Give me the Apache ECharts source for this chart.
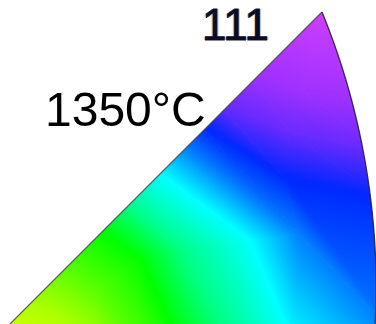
<!DOCTYPE html>
<html>
<head>
<meta charset="utf-8">
<script src="https://cdn.jsdelivr.net/npm/echarts@6/dist/echarts.min.js"></script>
<style>
  html, body { margin: 0; padding: 0; background: #fff; }
  #chart { width: 376px; height: 324px; }
</style>
</head>
<body>
<div id="chart"></div>
<script>
// Colour isolines of the orientation key: the colour is constant along each
// three-point polyline (start just outside the 45° edge, middle, end past the rim).
const isoColors = ['#d2ff00', '#aaff00', '#55ff00', '#00ff00', '#00ff80', '#00ffff',
                   '#0080ff', '#0028ff', '#6a2aff', '#a030ff', '#d040ff'];
const isoStartX = [-5, 22, 60, 95, 118, 150, 175, 195, 215, 248, 300];
const isoStartY = [305, 300, 262, 226, 200, 166, 140, 120, 100, 72, -5];
const isoMidX   = [12, 58, 100, 140, 180, 250, 300, 283, 290, 305, 322];
const isoMidY   = [332, 314, 290, 258, 250, 240, 235, 176, 132, 92, 6];
const isoEndX   = [40, 90, 135, 178, 228, 292, 395, 385, 380, 370, 350];
const isoEndY   = [350, 340, 340, 340, 340, 340, 335, 200, 150, 100, 0];

// Key outline: apex, lower end of the straight edge, and the circular rim
const apex = [322, 12];
const edgeFoot = [10, 324];
const rimCenter = [-352.8, 287.6];
const rimRadius = 728.9;

const pole = '111';
const tempLabel = '1350°C';

const chart = echarts.init(document.getElementById('chart'), null, { renderer: 'canvas' });

function foot(p, a, b) {
  const dx = b[0] - a[0], dy = b[1] - a[1];
  const t = ((p[0] - a[0]) * dx + (p[1] - a[1]) * dy) / (dx * dx + dy * dy);
  return [a[0] + t * dx, a[1] + t * dy];
}

function shadedTri(p0, p1, p2, from, to, c0, c1) {
  const g = new echarts.graphic.LinearGradient(from[0], from[1], to[0], to[1],
    [{ offset: 0, color: c0 }, { offset: 1, color: c1 }], true);
  return { type: 'polygon', shape: { points: [p0, p1, p2] },
           style: { fill: g, stroke: g, lineWidth: 1 }, silent: true };
}

function isoLine(api, i) {
  return [[isoStartX[i], isoStartY[i]], [isoMidX[i], isoMidY[i]], [isoEndX[i], isoEndY[i]]]
    .map(p => api.coord(p));
}

// Each strip between two isolines is split into triangles whose gradients
// run from one isoline's colour to the next, so shading is continuous.
function renderStrip(params, api) {
  const i = api.value(0);
  const A = isoLine(api, i), B = isoLine(api, i + 1);
  const cA = isoColors[i], cB = isoColors[i + 1];
  const children = [];
  for (let k = 0; k < 2; k++) {
    const a0 = A[k], a1 = A[k + 1], b0 = B[k], b1 = B[k + 1];
    children.push(shadedTri(a0, a1, b0, foot(b0, a0, a1), b0, cA, cB));
    children.push(shadedTri(a1, b1, b0, a1, foot(a1, b0, b1), cA, cB));
  }
  return { type: 'group', children };
}

function rimX(y) {
  return rimCenter[0] + Math.sqrt(rimRadius * rimRadius - (y - rimCenter[1]) * (y - rimCenter[1]));
}

// White surround outside the key, then its dark outline
function renderFrame(params, api) {
  const c = p => api.coord(p);
  const rim = [];
  for (let y = apex[1]; y <= 334; y += 2) rim.push([rimX(y), y]);
  const leftMask = [[-10, -10], [apex[0], -10], apex, edgeFoot, [-10, 334], [-10, 324]].map(c);
  const rightMask = [[apex[0], -10], [400, -10], [400, 334]]
    .concat(rim.slice().reverse()).map(c);
  return {
    type: 'group',
    children: [
      { type: 'polygon', shape: { points: leftMask }, style: { fill: '#fff' }, silent: true },
      { type: 'polygon', shape: { points: rightMask }, style: { fill: '#fff' }, silent: true },
      { type: 'polyline', shape: { points: [edgeFoot, apex].map(c) },
        style: { stroke: 'rgba(70,70,80,0.85)', lineWidth: 1.2, fill: null }, silent: true },
      { type: 'polyline', shape: { points: rim.map(c) },
        style: { stroke: 'rgba(40,30,60,0.9)', lineWidth: 1.3, fill: null }, silent: true }
    ]
  };
}

const poleFont = '44px "Liberation Sans", Arial, sans-serif';

chart.setOption({
  animation: false,
  backgroundColor: '#fff',
  grid: { left: 0, right: 0, top: 0, bottom: 0 },
  xAxis: { type: 'value', min: 0, max: 376, show: false },
  yAxis: { type: 'value', min: 0, max: 324, inverse: true, show: false },
  series: [
    { type: 'custom', name: 'strips', clip: false, z: 1,
      data: isoColors.slice(1).map((c, i) => [i]), renderItem: renderStrip },
    { type: 'custom', name: 'frame', clip: false, z: 2,
      data: [[0]], renderItem: renderFrame }
  ],
  graphic: [
    // soft warm / cool fringes either side of the pole label
    { type: 'text', x: 200.5, y: 28, z: 9,
      style: { text: pole, font: poleFont, fill: 'rgba(225,160,80,0.65)',
               align: 'left', verticalAlign: 'middle' } },
    { type: 'text', x: 203.5, y: 28, z: 9,
      style: { text: pole, font: poleFont, fill: 'rgba(110,170,235,0.65)',
               align: 'left', verticalAlign: 'middle' } },
    { type: 'text', x: 202, y: 28, z: 10,
      style: { text: pole, font: poleFont, fill: '#0c0c22', stroke: '#0c0c22', lineWidth: 0.8,
               align: 'left', verticalAlign: 'middle' } },
    { type: 'text', x: 45, y: 113, z: 10,
      style: { text: tempLabel, font: '48px "Liberation Sans", Arial, sans-serif',
               fill: '#000', align: 'left', verticalAlign: 'middle' } }
  ]
});
</script>
</body>
</html>
